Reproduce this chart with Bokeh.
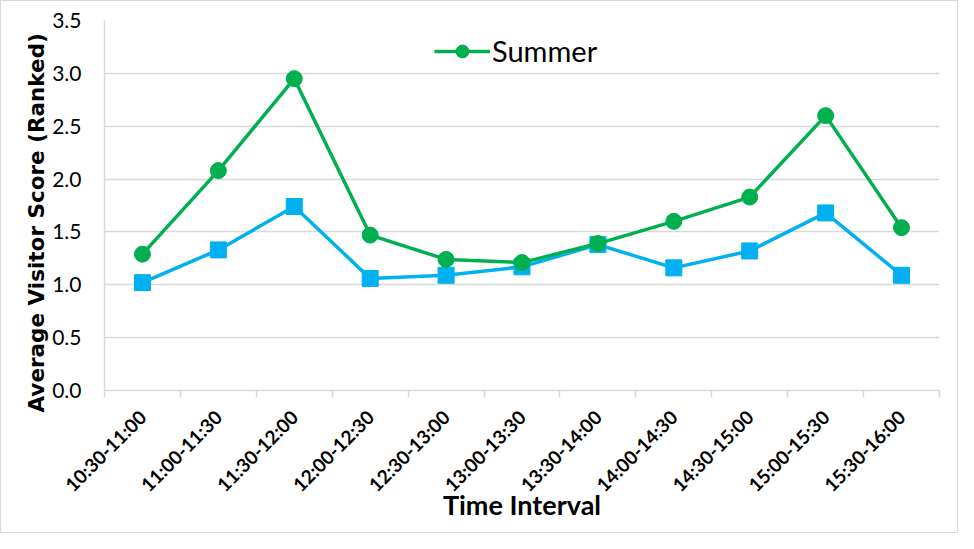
from bokeh.plotting import figure
from bokeh.models import FixedTicker, Legend, LegendItem, ColumnDataSource, Range1d, CustomJSTickFormatter, Title
from bokeh.embed import file_html
from bokeh.resources import INLINE

categories = ["10:30-11:00", "11:00-11:30", "11:30-12:00", "12:00-12:30", "12:30-13:00",
              "13:00-13:30", "13:30-14:00", "14:00-14:30", "14:30-15:00", "15:00-15:30",
              "15:30-16:00"]
summer = [1.29, 2.08, 2.95, 1.47, 1.24, 1.21, 1.39, 1.60, 1.83, 2.60, 1.54]
other = [1.02, 1.33, 1.74, 1.06, 1.09, 1.17, 1.38, 1.16, 1.32, 1.68, 1.09]
y_ticks = [0.0, 0.5, 1.0, 1.5, 2.0, 2.5, 3.0, 3.5]

xs = list(range(len(categories)))
src = ColumnDataSource(dict(x=xs, summer=summer, other=other))

FONT = "Lato"

p = figure(width=958, height=533, output_backend="svg", toolbar_location=None,
           x_range=Range1d(-0.5, len(categories) - 0.5), y_range=Range1d(0, 3.5),
           min_border_left=103, min_border_right=20, min_border_top=19, min_border_bottom=144)
p.styles = {"border": "1px solid #d9d9d9"}
p.outline_line_color = None

p.xgrid.visible = False
p.ygrid.grid_line_color = "#d9d9d9"
p.ygrid.grid_line_width = 1.5
p.ygrid.ticker = FixedTicker(ticks=y_ticks)

# x axis
p.xaxis.ticker = FixedTicker(ticks=xs, minor_ticks=[i - 0.5 for i in range(len(categories) + 1)])
p.xaxis.major_label_overrides = {i: c for i, c in enumerate(categories)}
p.xaxis.major_label_orientation = 0.785
p.xaxis.major_tick_out = 0
p.xaxis.major_tick_in = 0
p.xaxis.minor_tick_out = 7
p.xaxis.minor_tick_in = 0
p.xaxis.minor_tick_line_color = "#d9d9d9"
p.xaxis.minor_tick_line_width = 1.5
p.xaxis.axis_line_color = "#d9d9d9"
p.xaxis.axis_line_width = 1.5
p.xaxis.major_label_text_font = FONT
p.xaxis.major_label_text_font_style = "bold"
p.xaxis.major_label_text_font_size = "19px"
p.xaxis.major_label_text_color = "#000000"
p.xaxis.major_label_standoff = 16
p.xaxis.axis_label = "Time Interval"
p.xaxis.axis_label_text_font = FONT
p.xaxis.axis_label_text_font_style = "bold"
p.xaxis.axis_label_text_font_size = "27px"
p.xaxis.axis_label_text_color = "#000000"
p.xaxis.axis_label_standoff = -19

# y axis
p.yaxis.ticker = FixedTicker(ticks=y_ticks)
p.yaxis.formatter = CustomJSTickFormatter(code="return tick.toFixed(1);")
p.yaxis.major_tick_out = 0
p.yaxis.major_tick_in = 0
p.yaxis.minor_tick_out = 0
p.yaxis.minor_tick_in = 0
p.yaxis.axis_line_color = "#d9d9d9"
p.yaxis.axis_line_width = 1.5
p.yaxis.major_label_text_font = FONT
p.yaxis.major_label_text_font_size = "21px"
p.yaxis.major_label_text_color = "#000000"
p.yaxis.major_label_standoff = 23

ytitle = Title(text="Average Visitor Score (Ranked)", align="left", offset=-22,
               text_font="DejaVu Sans", text_font_style="bold", text_font_size="21.5px",
               text_color="#000000", standoff=2)
p.add_layout(ytitle, "left")

GREEN = "#00B050"
BLUE = "#00B0F0"

bl = p.line("x", "other", source=src, line_color=BLUE, line_width=3.5)
bs = p.scatter("x", "other", source=src, marker="square", size=16, fill_color=BLUE, line_color=BLUE)
gl = p.line("x", "summer", source=src, line_color=GREEN, line_width=3.5)
gc = p.scatter("x", "summer", source=src, marker="circle", size=16, fill_color=GREEN, line_color=GREEN)

legend = Legend(items=[LegendItem(label="Summer", renderers=[gl, gc])],
                location=(330, 322), padding=0, margin=0, spacing=0,
                glyph_width=56, glyph_height=32, label_height=32,
                label_text_font=FONT, label_text_font_size="29px",
                label_text_color="#000000", label_standoff=2,
                border_line_color=None, background_fill_alpha=0)
p.add_layout(legend, "center")

open("out.html", "w").write(file_html(p, INLINE))
